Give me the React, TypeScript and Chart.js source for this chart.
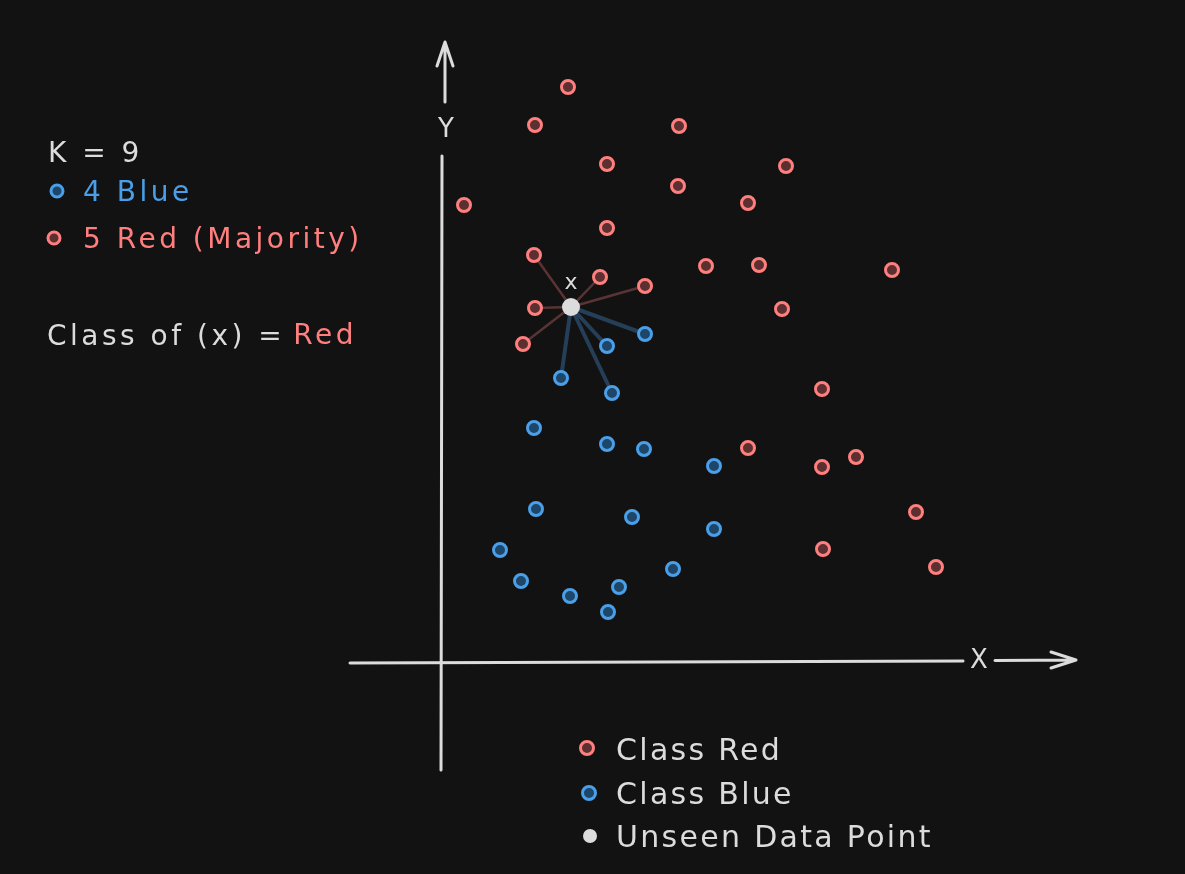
import React, { useEffect, useRef } from "react";
import { Chart, registerables } from "chart.js";

Chart.register(...registerables);

// ---- data (units: origin at axes crossing) ----
const redX = [2.54, 1.88, 4.76, 3.32, 6.9, 4.74, 6.14, 0.46, 3.32, 1.86, 5.3, 6.36, 9.02, 3.18, 4.08, 1.88, 6.82, 1.64, 7.62, 6.14, 8.3, 7.62, 9.5, 7.64, 9.9];
const redY = [11.5, 10.74, 10.72, 9.96, 9.92, 9.52, 9.18, 9.14, 8.68, 8.14, 7.92, 7.94, 7.84, 7.7, 7.52, 7.08, 7.06, 6.36, 5.46, 4.28, 4.1, 3.9, 3.0, 2.26, 1.9];
const blueX = [4.08, 3.32, 2.4, 3.42, 1.86, 3.32, 4.06, 5.46, 1.9, 3.82, 5.46, 1.18, 1.6, 4.64, 3.56, 2.58, 3.34];
const blueY = [6.56, 6.32, 5.68, 5.38, 4.68, 4.36, 4.26, 3.92, 3.06, 2.9, 2.66, 2.24, 1.62, 1.86, 1.5, 1.32, 1.0];
const unseenX = [2.6];
const unseenY = [7.1];
const redNeighborIdx = [9, 13, 14, 15, 17];
const blueNeighborIdx = [0, 1, 2, 3];
const K = 9;

const xView = [-8.82, 14.88];
const yView = [-4.24, 13.24];
const xAxisSpan = [-1.82, 10.44, 11.08, 12.7];
const yAxisSpan = [-2.16, 10.12, 11.2, 12.4];

const BG = "#121212";
const RED = "#ff7f7f";
const RED_FILL = "#5c2f31";
const RED_LINE = "#5a3434";
const BLUE = "#4a9fe8";
const BLUE_FILL = "#1d4668";
const BLUE_LINE = "#263f58";
const WHITE = "#dcdcdc";
const FONT = "'DejaVu Sans', 'Noto Sans', sans-serif";

function dot(ctx: CanvasRenderingContext2D, x: number, y: number, r: number, stroke: string, fill: string, lw: number) {
  ctx.beginPath();
  ctx.arc(x, y, r, 0, Math.PI * 2);
  ctx.fillStyle = fill;
  ctx.fill();
  if (lw > 0) {
    ctx.lineWidth = lw;
    ctx.strokeStyle = stroke;
    ctx.stroke();
  }
}

const annotations = {
  id: "annotations",
  beforeDatasetsDraw(chart: any) {
    const ctx: any = chart.ctx;
    const xs = chart.scales.x;
    const ys = chart.scales.y;
    const px = (v: number) => xs.getPixelForValue(v);
    const py = (v: number) => ys.getPixelForValue(v);
    ctx.save();
    ctx.strokeStyle = WHITE;
    ctx.lineWidth = 3;
    ctx.lineCap = "round";
    ctx.lineJoin = "round";
    // x axis
    ctx.beginPath();
    ctx.moveTo(px(xAxisSpan[0]), py(-0.02));
    ctx.lineTo(px(xAxisSpan[1]), py(0.02));
    ctx.moveTo(px(xAxisSpan[2]), py(0.03));
    ctx.lineTo(px(xAxisSpan[3]), py(0.04));
    const tx = px(xAxisSpan[3]);
    const ty = py(0.04);
    ctx.moveTo(tx - 25, ty - 8);
    ctx.lineTo(tx, ty);
    ctx.lineTo(tx - 25, ty + 8);
    ctx.stroke();
    // y axis
    ctx.beginPath();
    ctx.moveTo(px(0), py(yAxisSpan[0]));
    ctx.lineTo(px(0.02), py(yAxisSpan[1]));
    ctx.moveTo(px(0.08), py(yAxisSpan[2]));
    ctx.lineTo(px(0.08), py(yAxisSpan[3]));
    const ax = px(0.08);
    const ay = py(yAxisSpan[3]);
    ctx.moveTo(ax - 8, ay + 24);
    ctx.lineTo(ax, ay);
    ctx.lineTo(ax + 8, ay + 24);
    ctx.stroke();

    ctx.fillStyle = WHITE;
    ctx.textBaseline = "middle";
    ctx.textAlign = "center";
    ctx.font = `26px ${FONT}`;
    ctx.fillText("X", px((xAxisSpan[1] + xAxisSpan[2]) / 2), py(0.04) + 1);
    ctx.fillText("Y", px(0.1), py((yAxisSpan[1] + yAxisSpan[2]) / 2) + 1);
    ctx.font = `22px ${FONT}`;
    ctx.fillText("x", px(unseenX[0]), py(unseenY[0]) - 24);

    // left info block
    ctx.textAlign = "left";
    ctx.font = `28px ${FONT}`;
    ctx.letterSpacing = "3.5px";
    ctx.fillStyle = WHITE;
    ctx.fillText(`K = ${K}`, 48, 155);
    dot(ctx, 57, 191, 6, BLUE, BLUE_FILL, 3);
    ctx.fillStyle = BLUE;
    ctx.fillText(`${blueNeighborIdx.length} Blue`, 83, 194);
    dot(ctx, 54, 238, 6, RED, RED_FILL, 3);
    ctx.fillStyle = RED;
    ctx.fillText(`${redNeighborIdx.length} Red (Majority)`, 83, 241);
    ctx.fillStyle = WHITE;
    const cls = "Class of (x) =";
    ctx.fillText(cls, 47, 338);
    const w = ctx.measureText(cls).width;
    ctx.fillStyle = RED;
    ctx.fillText("Red", 47 + w + 8, 337);

    // bottom legend
    ctx.font = `30px ${FONT}`;
    ctx.letterSpacing = "2.3px";
    dot(ctx, 587, 748, 6.5, RED, RED_FILL, 3);
    dot(ctx, 589, 793, 6.5, BLUE, BLUE_FILL, 3);
    dot(ctx, 590, 836, 7, WHITE, WHITE, 0);
    ctx.fillStyle = WHITE;
    ctx.fillText("Class Red", 616, 752);
    ctx.fillText("Class Blue", 616, 796);
    ctx.fillText("Unseen Data Point", 616, 839);
    ctx.letterSpacing = "0px";
    ctx.restore();
  },
};

export default function App() {
  const ref = useRef<HTMLCanvasElement | null>(null);
  useEffect(() => {
    document.body.style.margin = "0";
    document.body.style.background = BG;
    const redPts = redX.map((x, i) => ({ x, y: redY[i] }));
    const bluePts = blueX.map((x, i) => ({ x, y: blueY[i] }));
    const u = { x: unseenX[0], y: unseenY[0] };
    const lineSets: any[] = [
      ...redNeighborIdx.map((i) => ({
        type: "line",
        data: [u, redPts[i]],
        borderColor: RED_LINE,
        borderWidth: 2.5,
        pointRadius: 0,
        showLine: true,
        order: 10,
      })),
      ...blueNeighborIdx.map((i) => ({
        type: "line",
        data: [u, bluePts[i]],
        borderColor: BLUE_LINE,
        borderWidth: 4,
        pointRadius: 0,
        showLine: true,
        order: 10,
      })),
    ];
    const chart = new Chart(ref.current as HTMLCanvasElement, {
      type: "scatter",
      data: {
        datasets: [
          ...lineSets,
          {
            label: "Class Red",
            data: redPts,
            pointRadius: 6.5,
            pointBorderWidth: 3,
            borderColor: RED,
            backgroundColor: RED_FILL,
            order: 2,
          },
          {
            label: "Class Blue",
            data: bluePts,
            pointRadius: 6.5,
            pointBorderWidth: 3,
            borderColor: BLUE,
            backgroundColor: BLUE_FILL,
            order: 2,
          },
          {
            label: "Unseen Data Point",
            data: [u],
            pointRadius: 9,
            pointBorderWidth: 0,
            borderColor: WHITE,
            backgroundColor: WHITE,
            order: 1,
          },
        ] as any,
      },
      options: {
        animation: false,
        responsive: false,
        layout: { padding: 0, autoPadding: false },
        plugins: { legend: { display: false }, tooltip: { enabled: false } },
        scales: {
          x: { type: "linear", min: xView[0], max: xView[1], display: false },
          y: { type: "linear", min: yView[0], max: yView[1], display: false },
        },
      } as any,
      plugins: [annotations],
    });
    return () => chart.destroy();
  }, []);
  return (
    <div style={{ position: "fixed", left: 0, top: 0, width: 1185, height: 874, background: BG }}>
      <canvas ref={ref} width={1185} height={874} style={{ display: "block" }} />
    </div>
  );
}
